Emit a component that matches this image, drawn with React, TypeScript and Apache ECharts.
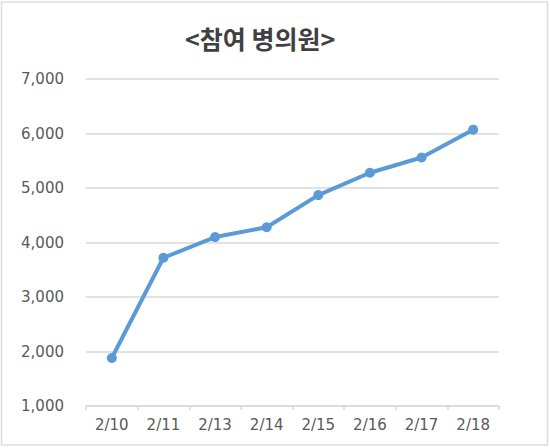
import { useEffect, useRef } from "react";
import * as echarts from "echarts";

const dates = ["2/10", "2/11", "2/13", "2/14", "2/15", "2/16", "2/17", "2/18"];
const clinics = [1880, 3720, 4100, 4280, 4870, 5280, 5560, 6070];
const chartTitle = "<참여 병의원>";

const TITLE_FONT = "'Noto Sans CJK KR', 'Noto Sans', sans-serif";
const LABEL_FONT = "'DejaVu Sans', sans-serif";

export default function App() {
  const chartRef = useRef<HTMLDivElement | null>(null);

  useEffect(() => {
    if (!chartRef.current) return;
    document.body.style.margin = "0";
    const chart = echarts.init(chartRef.current, undefined, { renderer: "svg" });
    chart.setOption({
      animation: false,
      backgroundColor: "#ffffff",
      title: {
        text: chartTitle,
        left: 180,
        top: 20,
        textStyle: { fontFamily: TITLE_FONT, fontSize: 25, fontWeight: "bold", color: "#404040" }
      },
      graphic: [
        {
          type: "rect",
          shape: { x: 1.5, y: 2, width: 546, height: 443 },
          style: { fill: "none", stroke: "#dddddd", lineWidth: 1.5 },
          silent: true
        }
      ],
      grid: { left: 86, right: 51, top: 79, bottom: 42 },
      xAxis: {
        type: "category",
        data: dates,
        boundaryGap: true,
        axisLine: { lineStyle: { color: "#d9d9d9", width: 1.5 } },
        axisTick: { show: true, length: 4, lineStyle: { color: "#d9d9d9", width: 1.5 } },
        axisLabel: { margin: 11, fontFamily: LABEL_FONT, fontSize: 15, color: "#595959" }
      },
      yAxis: {
        type: "value",
        min: 1000,
        max: 7000,
        interval: 1000,
        axisLine: { show: false },
        axisTick: { show: false },
        splitLine: { lineStyle: { color: "#d9d9d9", width: 1.5 } },
        axisLabel: {
          margin: 22,
          fontFamily: LABEL_FONT,
          fontSize: 15,
          color: "#595959",
          formatter: (v: number) => v.toLocaleString("en-US")
        }
      },
      series: [
        {
          type: "line",
          data: clinics,
          symbol: "circle",
          symbolSize: 10,
          lineStyle: { color: "#5b9bd5", width: 4 },
          itemStyle: { color: "#5b9bd5" }
        }
      ]
    });
    return () => chart.dispose();
  }, []);

  return <div ref={chartRef} style={{ width: 550, height: 448 }} />;
}
